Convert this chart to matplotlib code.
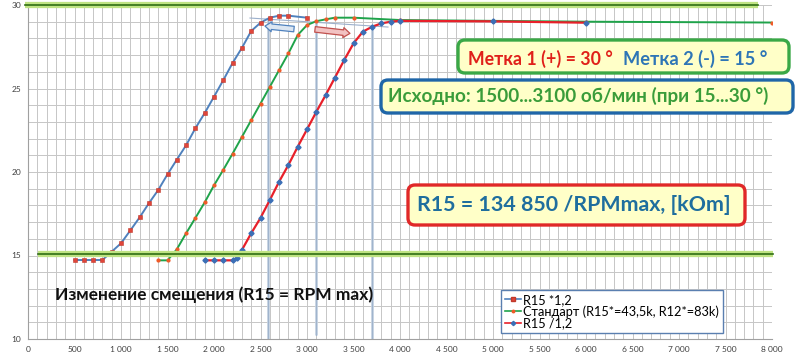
import matplotlib
matplotlib.use('Agg')
import matplotlib.pyplot as plt
from matplotlib.patches import FancyBboxPatch
from matplotlib.transforms import IdentityTransform
from matplotlib.ticker import MultipleLocator, FuncFormatter
from matplotlib.lines import Line2D

plt.rcParams['font.family'] = ['Lato', 'Open Sans', 'DejaVu Sans']

# ---- data ----
rpm_plus = [500, 600, 700, 800, 900, 1000, 1100, 1200, 1300, 1400, 1500, 1600, 1700, 1800,
            1900, 2000, 2100, 2200, 2300, 2400, 2500, 2600, 2700, 2800, 3000]
adv_plus = [14.73, 14.73, 14.73, 14.73, 15.23, 15.73, 16.5, 17.28, 18.13, 18.92, 19.86, 20.74,
            21.6, 22.62, 23.53, 24.51, 25.5, 26.53, 27.43, 28.44, 28.94, 29.24, 29.36, 29.36, 29.24]

rpm_std = [1400, 1500, 1600, 1700, 1800, 1900, 2000, 2100, 2200, 2300, 2400, 2500, 2600, 2700,
           2800, 2900, 3000, 3100, 3200, 3300, 3500, 4000, 5000, 6000, 8000]
adv_std = [14.71, 14.71, 15.37, 16.33, 17.25, 18.18, 19.2, 20.13, 21.1, 22.1, 23.1, 24.1, 25.1,
           26.1, 27.1, 28.2, 28.8, 29.03, 29.14, 29.24, 29.24, 29.1, 29.05, 29.0, 28.95]

rpm_minus = [1900, 2000, 2100, 2200, 2250, 2300, 2400, 2500, 2600, 2700, 2800, 2900, 3000, 3100,
             3200, 3300, 3400, 3500, 3600, 3700, 3800, 3900, 4000, 5000, 6000]
adv_minus = [14.71, 14.71, 14.71, 14.71, 14.87, 15.33, 16.33, 17.25, 18.32, 19.42, 20.42, 21.51,
             22.55, 23.6, 24.6, 25.65, 26.7, 27.7, 28.4, 28.7, 28.9, 29.0, 29.05, 29.02, 28.94]

series_labels = ['R15 *1,2', 'Стандарт (R15*=43,5k, R12*=83k)', 'R15 /1,2']

limit_lines_y = [30.0, 15.08]
limit_lines_x = [(-30, 7850), (107, 8010)]

mark_rpm = [2580, 3100, 3700]
mark_top = [29.2, 29.0, 28.6]
mark_bottom = [10.0, 10.25, 10.0]

tangent_x = [2387, 3871]
tangent_y = [29.22, 28.68]

x_ticks = [0, 500, 1000, 1500, 2000, 2500, 3000, 3500, 4000, 4500, 5000, 5500, 6000, 6500, 7000, 7500, 8000]
y_ticks = [10, 15, 20, 25, 30]

W, H = 800, 358
fig = plt.figure(figsize=(W / 100, H / 100), dpi=100)
fig.patch.set_facecolor('white')
ax = fig.add_axes([28 / W, 1 - 339 / H, 744 / W, 334 / H])

ax.set_xlim(0, 8000)
ax.set_ylim(10, 30)
ax.set_xticks(x_ticks)
ax.set_yticks(y_ticks)
ax.xaxis.set_minor_locator(MultipleLocator(100))
ax.yaxis.set_minor_locator(MultipleLocator(1))
ax.grid(which='both', color='#c6c6c6', lw=0.7)
ax.set_axisbelow(True)
ax.xaxis.set_major_formatter(FuncFormatter(lambda v, p: f"{int(v):,}".replace(',', ' ')))
ax.tick_params(which='both', length=0, labelsize=6, labelcolor='#404040', pad=5)
for s in ['top', 'right']:
    ax.spines[s].set_visible(False)
for s in ['left', 'bottom']:
    ax.spines[s].set_color('#a0a0a0')
    ax.spines[s].set_linewidth(0.8)

# vertical marker lines
for xm, yt, yb in zip(mark_rpm, mark_top, mark_bottom):
    ax.plot([xm, xm], [yb, yt], color='#c3d0e0', lw=2.0, zorder=2, solid_capstyle='butt')
    ax.plot([xm, xm], [yb, yt], color='#9fb4cd', lw=0.7, zorder=2)

# thin tangent line
ax.plot(tangent_x, tangent_y, color='#9cb0cc', lw=0.8, zorder=2)

# series
ax.plot(rpm_plus, adv_plus, color='#4f81bd', lw=1.4, marker='s', ms=3.2,
        mfc='#e0453a', mec='#c0392b', mew=0.4, zorder=4)
ax.plot(rpm_std, adv_std, color='#1fa34a', lw=1.4, marker='o', ms=2.0,
        mfc='#f05a28', mec='#f05a28', zorder=4)
ax.plot(rpm_minus, adv_minus, color='#e8202a', lw=1.6, marker='D', ms=2.6,
        mfc='#3b6fb6', mec='#3b6fb6', zorder=5)

# green limit lines
for yv, (x0, x1) in zip(limit_lines_y, limit_lines_x):
    ax.plot([x0, x1], [yv, yv], color='#bfe383', lw=4.5, clip_on=False, zorder=6,
            solid_capstyle='butt')
    ax.plot([x0, x1], [yv, yv], color='#2f6e14', lw=1.2, clip_on=False, zorder=7)

# arrows
ax.annotate('', xy=(2548, 28.74), xytext=(2860, 28.56),
            arrowprops=dict(arrowstyle='simple,head_length=0.6,head_width=0.9,tail_width=0.5',
                            fc='#dce6f2', ec='#4f81bd', lw=0.9, mutation_scale=8,
                            shrinkA=0, shrinkB=0), zorder=6)
ax.annotate('', xy=(3462, 28.30), xytext=(3086, 28.54),
            arrowprops=dict(arrowstyle='simple,head_length=0.6,head_width=0.9,tail_width=0.5',
                            fc='#f2c2c2', ec='#c0504d', lw=0.9, mutation_scale=8,
                            shrinkA=0, shrinkB=0), zorder=6)

# legend
handles = [
    Line2D([], [], color='#4f81bd', lw=1.2, marker='s', ms=2.5, mfc='#e0453a', mec='#c0392b'),
    Line2D([], [], color='#1fa34a', lw=1.2, marker='o', ms=1.8, mfc='#f05a28', mec='#f05a28'),
    Line2D([], [], color='#e8202a', lw=1.2, marker='D', ms=2.2, mfc='#3b6fb6', mec='#3b6fb6'),
]
leg = ax.legend(handles, series_labels, loc='lower left', bbox_to_anchor=((501 - 28) / 744, 6 / 334),
                frameon=True, fancybox=False, borderaxespad=0, handlelength=1.3,
                handletextpad=0.15, labelspacing=-0.05, borderpad=0.3,
                prop={'family': ['Lato', 'Open Sans', 'DejaVu Sans'], 'size': 9.2})
leg.get_frame().set_edgecolor('#5a7fb0')
leg.get_frame().set_linewidth(1.0)
leg.get_frame().set_alpha(1)
leg.set_zorder(8)

# boxes (pixel coordinates, y from top)
def add_box(x0, y0, x1, y1, ec):
    p = FancyBboxPatch((x0, H - y1), x1 - x0, y1 - y0,
                       boxstyle='round,pad=0,rounding_size=7', transform=IdentityTransform(),
                       fc='#ffffc8', ec=ec, lw=2.4, zorder=1)
    fig.add_artist(p)

add_box(458, 40, 789, 73, '#3aa846')
add_box(381, 80, 793, 113, '#1f66a8')
add_box(408, 185, 745, 225, '#e02828')

texts = []
def add_text(x, y, s, color, target_w, size=12):
    t = fig.text(x / W, 1 - y / H, s, ha='left', va='center', color=color,
                 fontsize=size, fontweight='bold', zorder=3)
    texts.append((t, target_w))
    return t

add_text(468, 59, 'Метка 1 (+) = 30 °', '#e0201a', 144)
add_text(623, 59, 'Метка 2 (-) = 15 °', '#2e75b6', 144)
add_text(388, 96, 'Исходно: 1500...3100 об/мин (при 15...30 °)', '#3a9c3a', 380)
add_text(417, 205, 'R15 = 134 850 /RPMmax, [kOm]', '#1f6e9e', 315, 14)
add_text(55, 295, 'Изменение смещения (R15 = RPM max)', '#111111', 317)

fig.canvas.draw()
r = fig.canvas.get_renderer()
for t, tw in texts:
    bb = t.get_window_extent(r)
    t.set_fontsize(t.get_fontsize() * tw / bb.width)

fig.savefig('out.png', dpi=100)
